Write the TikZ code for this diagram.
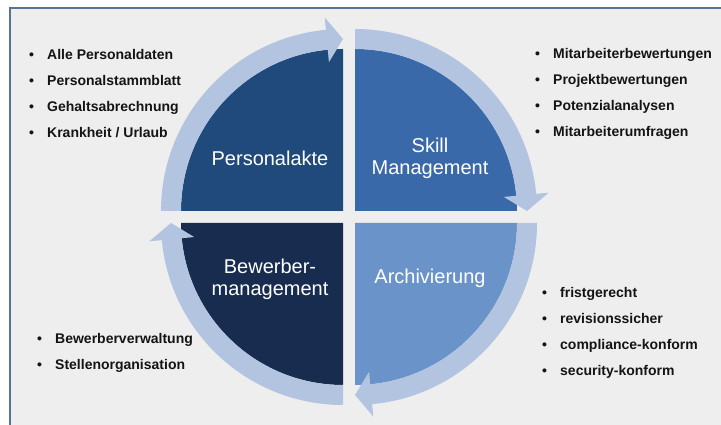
\documentclass[tikz,border=0pt]{standalone}
\usepackage{fontspec}
\setmainfont{Liberation Sans}
\usepackage{xcolor}
\usetikzlibrary{calc}
\definecolor{pmbg}{HTML}{EEEEEE}
\definecolor{pmframe}{HTML}{5A7394}
\definecolor{pmakte}{HTML}{214A7C}
\definecolor{pmskill}{HTML}{3A69A9}
\definecolor{pmarchiv}{HTML}{6993C9}
\definecolor{pmbewerber}{HTML}{172C4F}
\definecolor{pmbandc}{HTML}{B2C4DF}
\definecolor{pmtext}{HTML}{141414}
\tikzset{
  pmquad/.style={draw=none},
  pmband/.style={fill=pmbandc},
  pmlabel/.style={text=white, font=\fontsize{20}{22.5}\selectfont, align=center, inner sep=0pt},
  pmlist/.style={anchor=west, align=left, inner sep=0pt, text=pmtext, font=\bfseries\fontsize{14}{26}\selectfont},
}
\newcommand{\pmitem}{\makebox[18pt][l]{\textbullet}}
% band with arrow head: corner, start angle, end angle
\newcommand{\pmarrow}[3]{%
  \fill[pmband] ([shift={(#2:182)}]#1) arc[start angle=#2, end angle=#3+5.4, radius=182]
    -- ([shift={(#3+5.4:194.5)}]#1) -- ([shift={(#3:172)}]#1)
    -- ([shift={(#3+5.4:149.5)}]#1) -- ([shift={(#3+5.4:162)}]#1)
    arc[start angle=#3+5.4, end angle=#2, radius=162] -- cycle;}

\begin{document}
\begin{tikzpicture}[x=1pt, y=1pt]
  \useasboundingbox (0,0) rectangle (721,425);
  \clip (0,0) rectangle (721,425);
  \fill[white] (0,0) rectangle (721,425);
  \filldraw[fill=pmbg, draw=pmframe, line width=2pt] (10,-10) rectangle (740,417);

  % corners of the four quadrants
  \coordinate (tl) at (343,214);
  \coordinate (tr) at (355,214);
  \coordinate (br) at (355,202);
  \coordinate (bl) at (343,202);

  % quadrants
  \fill[pmakte] (tl) -- ++(-162,0) arc[start angle=180, end angle=90, radius=162] -- cycle;
  \fill[pmskill] (tr) -- ++(0,162) arc[start angle=90, end angle=0, radius=162] -- cycle;
  \fill[pmarchiv] (br) -- ++(162,0) arc[start angle=0, end angle=-90, radius=162] -- cycle;
  \fill[pmbewerber] (bl) -- ++(0,-162) arc[start angle=270, end angle=180, radius=162] -- cycle;

  % cycle arrows
  \pmarrow{tl}{180}{90}
  \pmarrow{tr}{90}{0}
  \pmarrow{br}{0}{-90}
  \pmarrow{bl}{-90}{-180}

  % labels
  \node[pmlabel] (akte) at (270,267) {Personalakte};
  \node[pmlabel] (skill) at (430,266.7) {Skill\\Management};
  \node[pmlabel] (bewerber) at (270,145.7) {Bewerber-\\management};
  \node[pmlabel] (archiv) at (430,146.2) {Archivierung};

  % lists
  \node[pmlist] (akteitems) at (29,331.6) {\pmitem Alle Personaldaten\\
    \pmitem Personalstammblatt\\ \pmitem Gehaltsabrechnung\\ \pmitem Krankheit / Urlaub};
  \node[pmlist] (skillitems) at (535,330.6) {\pmitem Mitarbeiterbewertungen\\
    \pmitem Projektbewertungen\\ \pmitem Potenzialanalysen\\ \pmitem Mitarbeiterumfragen};
  \node[pmlist] (archivitems) at (542,92) {\pmitem fristgerecht\\
    \pmitem revisionssicher\\ \pmitem compliance-konform\\ \pmitem security-konform};
  \node[pmlist] (bewerberitems) at (37,71.6) {\pmitem Bewerberverwaltung\\
    \pmitem Stellenorganisation};
\end{tikzpicture}
\end{document}
